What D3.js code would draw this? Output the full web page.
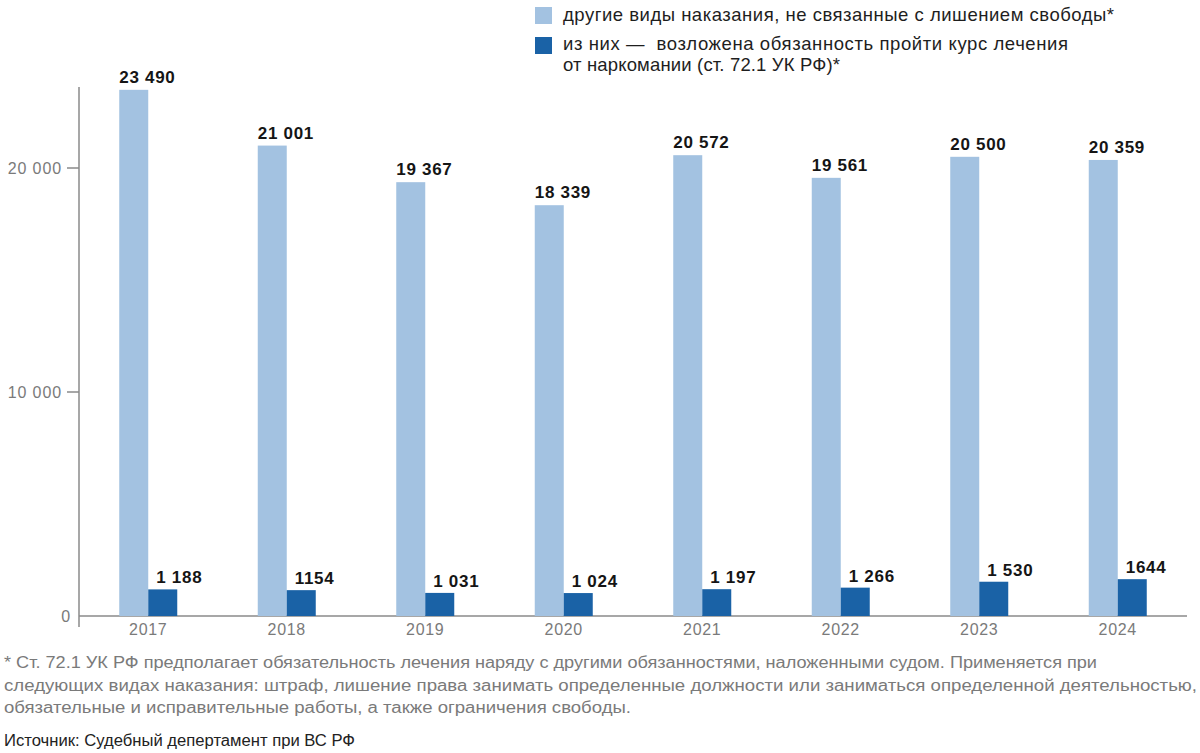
<!DOCTYPE html>
<html><head><meta charset="utf-8">
<script src="https://cdn.jsdelivr.net/npm/d3@7"></script>
<style>body{margin:0;background:#fff}svg{display:block;font-family:"Liberation Sans",Arial,sans-serif}</style>
</head><body>
<svg id="c" width="1200" height="753"></svg>
<script>
const years = ["2017","2018","2019","2020","2021","2022","2023","2024"];
const otherPunish = [23490,21001,19367,18339,20572,19561,20500,20359];
const otherLabels = ["23 490","21 001","19 367","18 339","20 572","19 561","20 500","20 359"];
const treatment = [1188,1154,1031,1024,1197,1266,1530,1644];
const treatmentLabels = ["1 188","1154","1 031","1 024","1 197","1 266","1 530","1644"];
const yTicks = [0,10000,20000];
const yTickLabels = ["0","10 000","20 000"];
const legendItems = [["другие виды наказания, не связанные с лишением свободы*"],["из них —\u00a0 возложена обязанность пройти курс лечения","от наркомании (ст. 72.1 УК РФ)*"]];
const footnote = ["* Ст. 72.1 УК РФ предполагает обязательность лечения наряду с другими обязанностями, наложенными судом. Применяется при","следующих видах наказания: штраф, лишение права занимать определенные должности или заниматься определенной деятельностью,","обязательные и исправительные работы, а также ограничения свободы."];
const source = "Источник: Судебный депертамент при ВС РФ";

const light="#a3c2e1", dark="#1a62a6", axisC="#8a8a8a", tickText="#7a7a7a";
const svg=d3.select("#c");
const x=d3.scaleBand().domain(years).range([79,1187]).padding(0);
const y=d3.scaleLinear().domain([0,10000]).range([616,392]);
const bw=29;

// axes
svg.append("line").attr("x1",79).attr("x2",79).attr("y1",87).attr("y2",627).attr("stroke",axisC).attr("stroke-width",1.5);
svg.append("line").attr("x1",79).attr("x2",1187).attr("y1",y(0)).attr("y2",y(0)).attr("stroke",axisC).attr("stroke-width",1.5);
const yt=svg.append("g");
yTicks.forEach((t,i)=>{
  if(t>0) yt.append("line").attr("x1",67).attr("x2",79).attr("y1",y(t)).attr("y2",y(t)).attr("stroke",axisC).attr("stroke-width",1.5);
  yt.append("text").attr("x",t>0?62:71).attr("y",y(t)).attr("dy","0.36em").attr("text-anchor","end")
    .attr("fill",tickText).attr("font-size",16).attr("letter-spacing",0.9).text(yTickLabels[i]);
});
svg.append("g").selectAll("text").data(years).join("text")
  .attr("x",d=>x(d)+x.bandwidth()/2).attr("y",635).attr("text-anchor","middle")
  .attr("fill",tickText).attr("font-size",16).attr("letter-spacing",0.7).text(d=>d);

const g=svg.append("g");
const cx=d=>x(d)+x.bandwidth()/2;
g.selectAll("rect.l").data(years).join("rect").attr("class","l")
  .attr("x",d=>cx(d)-bw).attr("width",bw).attr("y",(d,i)=>y(otherPunish[i])).attr("height",(d,i)=>y(0)-y(otherPunish[i])).attr("fill",light);
g.selectAll("rect.d").data(years).join("rect").attr("class","d")
  .attr("x",d=>cx(d)).attr("width",bw).attr("y",(d,i)=>y(treatment[i])).attr("height",(d,i)=>y(0)-y(treatment[i])).attr("fill",dark);
g.selectAll("text.l").data(years).join("text").attr("class","l")
  .attr("x",d=>cx(d)-bw).attr("y",(d,i)=>y(otherPunish[i])-7)
  .attr("font-size",17).attr("letter-spacing",0.7).attr("font-weight","bold").attr("fill","#151515").text((d,i)=>otherLabels[i]);
g.selectAll("text.d").data(years).join("text").attr("class","d")
  .attr("x",d=>cx(d)+8).attr("y",(d,i)=>y(treatment[i])-6)
  .attr("font-size",17).attr("letter-spacing",0.7).attr("font-weight","bold").attr("fill","#151515").text((d,i)=>treatmentLabels[i]);

// legend
const lg=svg.append("g");
const legW=[[551],[505,277]];
[[light,7,21],[dark,37,50]].forEach(([c,yy,by],i)=>{
  lg.append("rect").attr("x",535).attr("y",yy).attr("width",17).attr("height",17).attr("fill",c);
  legendItems[i].forEach((line,j)=>{
    lg.append("text").attr("x",563).attr("y",by+j*20.5).attr("font-size",18.5).attr("fill","#1e1e1e")
      .attr("textLength",legW[i][j]).attr("lengthAdjust","spacing").text(line);
  });
});

// footnote
const fn=svg.append("g");
const fnL=[1093,1193,627];
footnote.forEach((line,i)=>{
  fn.append("text").attr("x",4).attr("y",668+i*22.5).attr("font-size",16).attr("fill","#7a7a7a")
    .attr("textLength",fnL[i]).attr("lengthAdjust","spacingAndGlyphs").text(line);
});
svg.append("text").attr("x",4).attr("y",746).attr("font-size",16).attr("fill","#222")
  .attr("textLength",351).attr("lengthAdjust","spacingAndGlyphs").text(source);
</script>
</body></html>
